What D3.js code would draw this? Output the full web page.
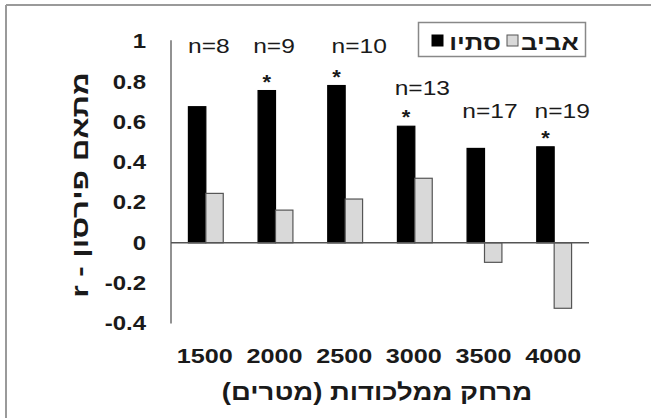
<!DOCTYPE html>
<html><head><meta charset="utf-8">
<script src="https://cdn.jsdelivr.net/npm/d3@7"></script>
<style>html,body{margin:0;padding:0;background:#fff;}svg{display:block;}</style>
</head><body>
<script>
// ---- data ----
const categories = ["1500","2000","2500","3000","3500","4000"];
const autumn = [0.675, 0.755, 0.78, 0.578, 0.468, 0.476];   // סתיו (black)
const spring = [0.245, 0.162, 0.217, 0.32, -0.097, -0.325]; // אביב (gray)
const nLabels = ["n=8","n=9","n=10","n=13","n=17","n=19"];
const significant = [false, true, true, true, false, true];
const yTicks = [-0.4, -0.2, 0, 0.2, 0.4, 0.6, 0.8, 1];
const yTickLabels = ["-0.4","-0.2","0","0.2","0.4","0.6","0.8","1"];
const seriesNames = ["סתיו","אביב"];
// annotation anchors (value level of n-label baseline, horizontal nudge)
const nLabelLevel = [0.94, 0.94, 0.94, 0.732, 0.618, 0.618];
const nLabelNudge = [3, -1.5, 14, 7.5, 5.5, 8];

const W = 651, H = 418;
const svg = d3.select("body").append("svg").attr("width", W).attr("height", H);
svg.append("rect").attr("width", W).attr("height", H).attr("fill", "#fff");

// frame (top and left visible)
svg.append("line").attr("x1", 6).attr("x2", W).attr("y1", 5).attr("y2", 5).attr("stroke", "#9a9a9a").attr("stroke-width", 2);
svg.append("line").attr("x1", 6).attr("x2", 6).attr("y1", 5).attr("y2", H).attr("stroke", "#9a9a9a").attr("stroke-width", 2);

const FONT = "'Liberation Sans', Arial, Helvetica, sans-serif";
function txt(x, y, s, size, weight, anchor, sx, rot) {
  return svg.append("text")
    .attr("transform", `translate(${x},${y})` + (rot ? ` rotate(${rot})` : "") + ` scale(${sx},1)`)
    .attr("font-family", FONT).attr("font-size", size).attr("font-weight", weight)
    .attr("text-anchor", anchor).attr("fill", "#1a1a1a").text(s);
}

const x0 = d3.scaleBand().domain(categories).range([171, 589]).paddingInner(0.5).paddingOuter(0.25);
const x1 = d3.scaleBand().domain([0, 1]).range([0, x0.bandwidth()]);
const y = d3.scaleLinear().domain([-0.4, 1]).range([323.4, 41.2]);

// y axis line
svg.append("line").attr("x1", 171).attr("x2", 171).attr("y1", y(1) - 1).attr("y2", y(-0.4)).attr("stroke", "#777").attr("stroke-width", 1.6);

// y tick labels
yTicks.forEach((v, i) => {
  txt(146, y(v) + 7, yTickLabels[i], 20, "bold", "end", 1.2);
});

// bars
const groups = categories.map((c, i) => ({c, vals: [autumn[i], spring[i]]}));
groups.forEach((g, i) => {
  g.vals.forEach((v, j) => {
    const bx = x0(g.c) + x1(j);
    svg.append("rect")
      .attr("x", bx).attr("width", x1.bandwidth())
      .attr("y", y(Math.max(0, v))).attr("height", Math.abs(y(v) - y(0)))
      .attr("fill", j === 0 ? "#000" : "#d9d9d9")
      .attr("stroke", j === 0 ? "#000" : "#555").attr("stroke-width", 1.2);
  });
});

// zero line
svg.append("line").attr("x1", 171).attr("x2", 589).attr("y1", y(0)).attr("y2", y(0)).attr("stroke", "#555").attr("stroke-width", 1.4);

// asterisks
groups.forEach((g, i) => {
  if (significant[i]) {
    txt(x0(g.c) + x1(0) + x1.bandwidth() / 2, y(autumn[i]) - 2, "*", 20, "bold", "middle", 1.1);
  }
});

// n labels
groups.forEach((g, i) => {
  txt(x0(g.c) + x0.bandwidth() / 2 + nLabelNudge[i], y(nLabelLevel[i]), nLabels[i], 21, "normal", "middle", 1.17);
});

// x tick labels
categories.forEach(c => {
  txt(x0(c) + x0.bandwidth() / 2 - 1, 363, c, 21, "bold", "middle", 1.2);
});

// axis titles
txt(377, 400, "מרחק ממלכודות (מטרים)", 23.5, "bold", "middle", 1.17).attr("direction", "rtl");
txt(88, 185, "מתאם פירסון - r", 23, "bold", "middle", 1.36, -90).attr("direction", "rtl");

// legend
const lg = svg.append("g");
lg.append("rect").attr("x", 418.5).attr("y", 22.5).attr("width", 167).attr("height", 34)
  .attr("fill", "#fff").attr("stroke", "#888").attr("stroke-width", 1.5);
lg.append("rect").attr("x", 432).attr("y", 35).attr("width", 11).attr("height", 11).attr("fill", "#000").attr("stroke", "#000");
txt(475, 50, seriesNames[0], 22, "bold", "middle", 1.17).attr("direction", "rtl");
lg.append("rect").attr("x", 507).attr("y", 35).attr("width", 11).attr("height", 11).attr("fill", "#d9d9d9").attr("stroke", "#555");
txt(550, 50, seriesNames[1], 22, "bold", "middle", 1.17).attr("direction", "rtl");
</script>
</body></html>
